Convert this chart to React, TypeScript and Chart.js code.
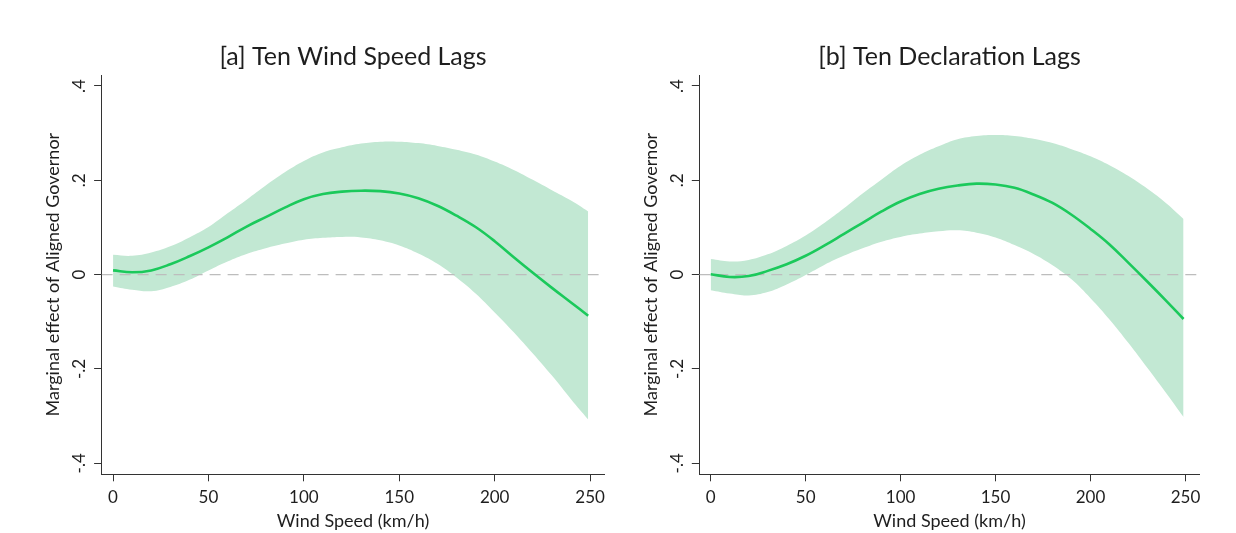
import React, { useEffect, useRef } from "react";
import { Chart, registerables } from "chart.js";

Chart.register(...registerables);

// Wind speed grid (km/h)
const windSpeed = [0, 10, 20, 30, 40, 50, 60, 70, 80, 90, 100, 110, 120, 130, 140, 150, 160, 170, 180, 190, 200, 210, 220, 230, 240, 249];

// [a] Ten Wind Speed Lags
const windLagsEffect = [0.009, 0.005, 0.009, 0.022, 0.039, 0.058, 0.079, 0.102, 0.122, 0.142, 0.160, 0.171, 0.176, 0.178, 0.177, 0.172, 0.162, 0.146, 0.125, 0.101, 0.071, 0.037, 0.004, -0.028, -0.059, -0.087];
const windLagsUpper = [0.042, 0.040, 0.047, 0.060, 0.079, 0.101, 0.130, 0.159, 0.189, 0.217, 0.241, 0.259, 0.270, 0.278, 0.282, 0.282, 0.279, 0.273, 0.265, 0.255, 0.240, 0.222, 0.201, 0.179, 0.157, 0.134];
const windLagsLower = [-0.025, -0.032, -0.035, -0.026, -0.011, 0.009, 0.028, 0.044, 0.056, 0.066, 0.074, 0.078, 0.080, 0.079, 0.073, 0.062, 0.045, 0.023, -0.006, -0.040, -0.080, -0.122, -0.167, -0.214, -0.264, -0.307];

// [b] Ten Declaration Lags
const declLagsEffect = [0.001, -0.005, -0.003, 0.008, 0.022, 0.040, 0.062, 0.086, 0.110, 0.134, 0.155, 0.171, 0.182, 0.189, 0.193, 0.191, 0.184, 0.170, 0.152, 0.127, 0.097, 0.064, 0.025, -0.015, -0.056, -0.094];
const declLagsUpper = [0.033, 0.028, 0.031, 0.043, 0.061, 0.083, 0.110, 0.140, 0.172, 0.202, 0.231, 0.254, 0.272, 0.287, 0.294, 0.296, 0.294, 0.288, 0.279, 0.266, 0.251, 0.232, 0.209, 0.182, 0.151, 0.118];
const declLagsLower = [-0.033, -0.040, -0.044, -0.037, -0.021, -0.001, 0.021, 0.040, 0.056, 0.070, 0.080, 0.087, 0.092, 0.094, 0.089, 0.079, 0.063, 0.044, 0.020, -0.010, -0.050, -0.095, -0.145, -0.198, -0.252, -0.302];

const xTicks = [0, 50, 100, 150, 200, 250];
const xTickLabels = ["0", "50", "100", "150", "200", "250"];
const yTicks = [-0.4, -0.2, 0, 0.2, 0.4];
const yTickLabels = ["-.4", "-.2", "0", ".2", ".4"];
const xRange = [-6, 257.5];
const yRange = [-0.4233, 0.4233];
const referenceLevel = [0, 0];

const panelTitles = ["[a] Ten Wind Speed Lags", "[b] Ten Declaration Lags"];
const xAxisTitle = "Wind Speed (km/h)";
const yAxisTitle = "Marginal effect of Aligned Governor";

const LINE_COLOR = "#1bc95b";
const BAND_COLOR = "rgb(194, 232, 211)";
const AXIS_COLOR = "#333333";
const TEXT_COLOR = "#1e1e1e";

Chart.defaults.font.family = "Lato, 'Open Sans', sans-serif";

type PanelProps = {
  title: string;
  effect: number[];
  upper: number[];
  lower: number[];
  left: number;
  width: number;
  yAxisWidth: number;
  padRight: number;
  yTitlePad: number;
};

function Panel(props: PanelProps) {
  const ref = useRef<HTMLCanvasElement | null>(null);
  useEffect(() => {
    if (!ref.current) return;
    const pts = (arr: number[]) => windSpeed.map((x, i) => ({ x, y: arr[i] }));
    const chart = new Chart(ref.current, {
      type: "line",
      data: {
        datasets: [
          {
            data: pts(props.lower),
            borderColor: "transparent",
            borderWidth: 0,
            pointRadius: 0,
            fill: false,
            tension: 0.4,
            order: 4,
          },
          {
            data: pts(props.upper),
            borderColor: "transparent",
            borderWidth: 0,
            pointRadius: 0,
            backgroundColor: BAND_COLOR,
            fill: "-1",
            tension: 0.4,
            order: 3,
          },
          {
            data: xRange.map((x, i) => ({ x, y: referenceLevel[i] })),
            borderColor: "#bdbdbd",
            borderWidth: 1.2,
            borderDash: [11, 7],
            pointRadius: 0,
            fill: false,
            order: 2,
          },
          {
            data: pts(props.effect),
            borderColor: LINE_COLOR,
            borderWidth: 2.6,
            pointRadius: 0,
            fill: false,
            tension: 0.4,
            order: 1,
          },
        ],
      },
      options: {
        responsive: false,
        animation: false,
        devicePixelRatio: 1,
        layout: { padding: { left: 0, top: 0, right: props.padRight, bottom: 0 } },
        plugins: {
          legend: { display: false },
          tooltip: { enabled: false },
          title: {
            display: true,
            text: props.title,
            fullSize: false,
            color: TEXT_COLOR,
            font: { size: 25, weight: "normal" },
            padding: { top: 42, bottom: 3 },
          },
        },
        scales: {
          x: {
            type: "linear",
            min: xRange[0],
            max: xRange[1],
            afterBuildTicks: (s: any) => {
              s.ticks = xTicks.map((v) => ({ value: v }));
            },
            afterFit: (s: any) => {
              s.height = 533 - 474.3;
            },
            grid: { drawOnChartArea: false, drawTicks: true, tickLength: 7, color: AXIS_COLOR, lineWidth: 1 },
            border: { display: true, color: AXIS_COLOR, width: 1 },
            ticks: {
              color: TEXT_COLOR,
              font: { size: 17 },
              padding: 6.4,
              maxRotation: 0,
              autoSkip: false,
              callback: (_v: any, i: number) => xTickLabels[i],
            },
            title: {
              display: true,
              text: xAxisTitle,
              color: TEXT_COLOR,
              font: { size: 18 },
              padding: { top: 0, bottom: 1.2 },
            },
          },
          y: {
            type: "linear",
            min: yRange[0],
            max: yRange[1],
            afterBuildTicks: (s: any) => {
              s.ticks = yTicks.map((v) => ({ value: v }));
            },
            afterFit: (s: any) => {
              s.width = props.yAxisWidth;
            },
            grid: { drawOnChartArea: false, drawTicks: true, tickLength: 7.5, color: AXIS_COLOR, lineWidth: 1 },
            border: { display: true, color: AXIS_COLOR, width: 1 },
            ticks: {
              color: TEXT_COLOR,
              font: { size: 17 },
              padding: 4.5,
              minRotation: 90,
              maxRotation: 90,
              crossAlign: "center",
              autoSkip: false,
              callback: (_v: any, i: number) => yTickLabels[i],
            },
            title: {
              display: true,
              text: yAxisTitle,
              color: TEXT_COLOR,
              font: { size: 18 },
              padding: { top: props.yTitlePad, bottom: 0 },
            },
          },
        },
      } as any,
    });
    return () => chart.destroy();
  }, []);
  return (
    <div style={{ position: "absolute", left: props.left, top: 0, width: props.width, height: 533 }}>
      <canvas ref={ref} width={props.width} height={533} style={{ display: "block" }} />
    </div>
  );
}

export default function App() {
  return (
    <div style={{ position: "absolute", left: 0, top: 0, width: 1236, height: 533, background: "#ffffff" }}>
      <Panel
        title={panelTitles[0]}
        effect={windLagsEffect}
        upper={windLagsUpper}
        lower={windLagsLower}
        left={0}
        width={618}
        yAxisWidth={101.6}
        padRight={13.6}
        yTitlePad={42.2}
      />
      <Panel
        title={panelTitles[1]}
        effect={declLagsEffect}
        upper={declLagsUpper}
        lower={declLagsLower}
        left={618}
        width={618}
        yAxisWidth={81.3}
        padRight={36.3}
        yTitlePad={21.9}
      />
    </div>
  );
}
